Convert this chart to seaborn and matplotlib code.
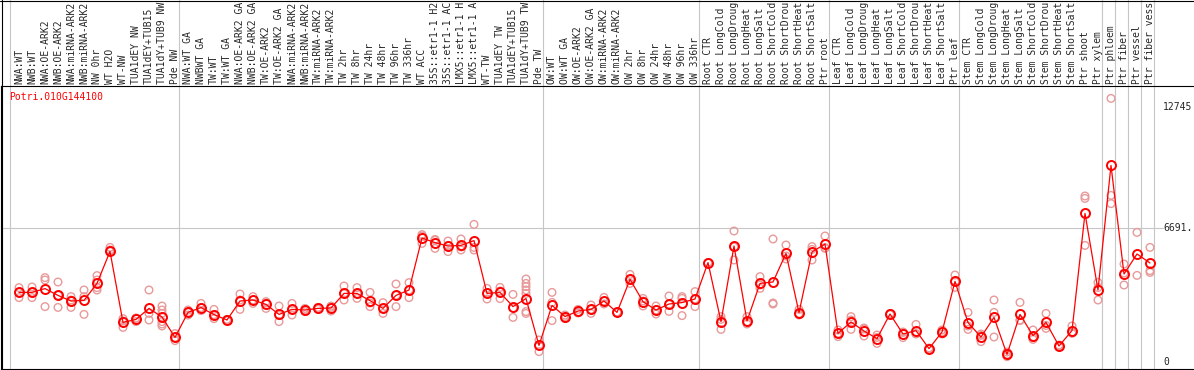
import numpy as np
import pandas as pd
import seaborn as sns
import matplotlib.pyplot as plt
import matplotlib.transforms as mtransforms
from matplotlib.lines import Line2D

# Dữ liệu (nhãn giữ như phần hiển thị được)
gene_id = "Potri.010G144100"

samples = [
    # nhóm 1
    "NWA:WT", "NWB:WT", "NWA:OE-ARK2", "NWB:OE-ARK2", "NWA:miRNA-ARK2", "NWB:miRNA-ARK2",
    "NW 0hr", "WT H2O", "WT-NW", "TUA1dEY NW", "TUA1dEY+TUB15", "TUA1dY+TUB9 NW", "Pde NW",
    # nhóm 2
    "NWA:WT GA", "NWBWT GA", "TW:WT", "TW:WT GA", "NWA:OE-ARK2 GA", "NWB:OE-ARK2 GA",
    "TW:OE-ARK2", "TW:OE-ARK2 GA", "NWA:miRNA-ARK2", "NWB:miRNA-ARK2", "TW:miRNA-ARK2",
    "TW:miRNA-ARK2", "TW 2hr", "TW 8hr", "TW 24hr", "TW 48hr", "TW 96hr", "TW 336hr", "WT ACC",
    "35S::etr1-1 H2", "35S::etr1-1 AC", "LMX5::etr1-1 H", "LMX5::etr1-1 A", "WT-TW",
    "TUA1dEY TW", "TUA1dEY+TUB15", "TUA1dY+TUB9 TW", "Pde TW",
    # nhóm OW
    "OW:WT", "OW:WT GA", "OW:OE-ARK2", "OW:OE-ARK2 GA", "OW:miRNA-ARK2", "OW:miRNA-ARK2",
    "OW 2hr", "OW 8hr", "OW 24hr", "OW 48hr", "OW 96hr", "OW 336hr",
    # rễ
    "Root CTR", "Root LongCold", "Root LongDroug", "Root LongHeat", "Root LongSalt",
    "Root ShortCold", "Root ShortDrou", "Root ShortHeat", "Root ShortSalt", "Ptr root",
    # lá
    "Leaf CTR", "Leaf LongCold", "Leaf LongDroug", "Leaf LongHeat", "Leaf LongSalt",
    "Leaf ShortCold", "Leaf ShortDrou", "Leaf ShortHeat", "Leaf ShortSalt", "Ptr leaf",
    # thân
    "Stem CTR", "Stem LongCold", "Stem LongDroug", "Stem LongHeat", "Stem LongSalt",
    "Stem ShortCold", "Stem ShortDrou", "Stem ShortHeat", "Stem ShortSalt", "Ptr shoot", "Ptr xylem",
    # mô
    "Ptr phloem", "Ptr fiber", "Ptr vessel", "Ptr fiber vess",
]

group_sizes = [13, 28, 12, 10, 10, 11, 1, 1, 1, 1]

means = [
    3480, 3480, 3670, 3330, 3050, 3080, 3930, 5530, 1980, 2130, 2680, 2250, 1230,
    2480, 2720, 2370, 2100, 3050, 3100, 2880, 2380, 2630, 2600, 2680, 2700, 3430, 3430,
    3070, 2680, 3330, 3600, 6200, 5970, 5800, 5830, 6070, 3430, 3480, 2770, 3170, 830,
    2830, 2270, 2550, 2630, 3050, 2480, 4130, 3020, 2600, 2900, 2970, 3150,
    4970, 2020, 5800, 2050, 3930, 4000, 5430, 2470, 5500, 5900,
    1430, 2000, 1550, 1170, 2400, 1400, 1570, 670, 1500, 4030,
    1970, 1250, 2230, 380, 2380, 1320, 1980, 800, 1570, 7430, 3600,
    9830, 4400, 5400, 4950,
]

replicates = [
    [3720, 3480, 3220], [3750, 3480, 3220], [4220, 4100, 2770], [4000, 3330, 2730],
    [3270, 3100, 2730], [3600, 3270, 2380], [4320, 4100, 3720, 3600], [5730, 5600, 5530],
    [2170, 2050, 1730], [2200, 2180, 2020], [3600, 2430, 2100],
    [2800, 2600, 2430, 2020, 1900, 1800], [1420, 1230, 1070],
    [2600, 2480, 2350], [2930, 2720, 2570], [2630, 2370, 2170], [2130, 2100, 2070],
    [3400, 3100, 2630], [3270, 3100, 2930], [3020, 2950, 2680], [2800, 2330, 2020],
    [2930, 2630, 2350], [2680, 2600, 2520], [2730, 2680, 2630], [2800, 2730, 2550],
    [3800, 3430, 3100], [3720, 3420, 3180], [3480, 2950, 2770], [2970, 2680, 2430],
    [3900, 3330, 2770], [3970, 3600, 3220], [6370, 6300, 5930], [6130, 6080, 5680],
    [6050, 5830, 5520], [6150, 5750, 5600], [6880, 5730, 5600], [3680, 3450, 3150],
    [3730, 3550, 3170], [3380, 2700, 2230], [4150, 3930, 3770, 3600, 3430, 2520, 2430],
    [1100, 830, 520],
    [3480, 2980, 2070], [2350, 2270, 2180], [2630, 2500, 2450], [2850, 2630, 2430],
    [3230, 3050, 2900], [2500, 2470], [4380, 4130, 3930], [3180, 3050, 2800],
    [2800, 2600, 2400], [3300, 2880, 2530], [3270, 3180, 2320], [3520, 3150, 2770],
    [4970, 4960], [2270, 2130, 1630], [6550, 5750, 5100], [2270, 2000, 1900],
    [4270, 3850, 3680], [6150, 2950, 2900], [5850, 5300, 5150], [2630, 2420, 2350],
    [5770, 5630, 5100], [6300, 5720, 5680],
    [1600, 1430, 1270], [2270, 2100, 1630], [1700, 1650, 1300], [1350, 1230, 930],
    [2420, 2400, 2380], [1500, 1480, 1220], [1880, 1420, 1400], [700, 650, 650],
    [1600, 1500, 1400], [4350, 4020, 3730],
    [2480, 1800, 1630], [1400, 1330, 1020], [3100, 2480, 1250], [500, 380, 270],
    [2980, 2100, 2070], [1600, 1220, 1130], [2430, 1830, 1680], [850, 800, 750],
    [1800, 1470, 1430], [8300, 8180, 5830], [3980, 3720, 3100],
    [13180, 8330, 7920], [4900, 4450, 3850], [6480, 4330], [5730, 4570, 4480],
]

y_ticks = [0, 6691.5, 12745]
y_tick_labels = ["0", "6691.", "12745"]

# Bảng dữ liệu cho seaborn
pos = np.arange(len(samples))
df_mean = pd.DataFrame({"pos": pos, "expr": means})
df_rep = pd.DataFrame(
    [(i, v) for i, reps in enumerate(replicates) for v in reps],
    columns=["pos", "expr"],
)

sns.set_theme(style="white")
plt.rcParams["font.family"] = ["DejaVu Sans Mono"]
fs = 7.0

W, H = 1194, 370
fig = plt.figure(figsize=(W / 100, H / 100), dpi=100)
ax = fig.add_axes([1 / W, 1 / H, (W - 1) / W, 283 / H])

# 1 mẫu = 13 px, mẫu đầu tiên ở x = 19 px
px = lambda p: (p - 19) / 13
ax.set_xlim(px(1), px(W))
ax.set_ylim(-350, -350 + 283 * 50)

grey = "#c6c6c6"
ax.axhline(y_ticks[1], xmax=0.974, color=grey, lw=0.8, zorder=0)

# đường phân nhóm, kéo dài cả vùng nhãn
bounds = np.cumsum([0] + group_sizes)
for b in bounds:
    ax.axvline(b - 0.69, ymin=-1 / 283, ymax=1 + 90 / 283, color=grey, lw=0.8,
               clip_on=False, zorder=0)

sns.scatterplot(data=df_rep, x="pos", y="expr", ax=ax, marker="o", s=30,
                facecolors="none", edgecolors="#e89a9a", linewidth=1.0, zorder=2)
sns.lineplot(data=df_mean, x="pos", y="expr", ax=ax, color="#ff0000", linewidth=0.9,
             marker="o", markersize=6.5, markerfacecolor="none",
             markeredgecolor="#ff0000", markeredgewidth=1.4, zorder=3)

ax.set_xticks([])
ax.set_yticks([])
ax.set_xlabel("")
ax.set_ylabel("")
for side in ["left", "bottom", "top"]:
    ax.spines[side].set_color("black")
    ax.spines[side].set_linewidth(0.8)
ax.spines["right"].set_visible(False)

# nhãn mẫu xoay dọc
trans = mtransforms.blended_transform_factory(ax.transData, ax.transAxes)
for i, s in enumerate(samples):
    ax.text(i, 1 + 2.5 / 283, s, rotation=90, ha="center", va="bottom",
            transform=trans, fontsize=fs, clip_on=False)

for v, lab in zip(y_ticks, y_tick_labels):
    ax.text(px(1163), v, lab, ha="left", va="center", fontsize=fs)

fig.text(9 / W, 1 - 97 / H, gene_id, color="#ff0000", ha="left", va="center", fontsize=fs)

# khung ngoài
fig.add_artist(Line2D([1.5 / W, 1.5 / W], [0, 1], transform=fig.transFigure, color="black", lw=0.8))
fig.add_artist(Line2D([0, 1], [1 - 0.5 / H, 1 - 0.5 / H], transform=fig.transFigure, color="black", lw=0.8))

fig.savefig("out.png", dpi=100)
